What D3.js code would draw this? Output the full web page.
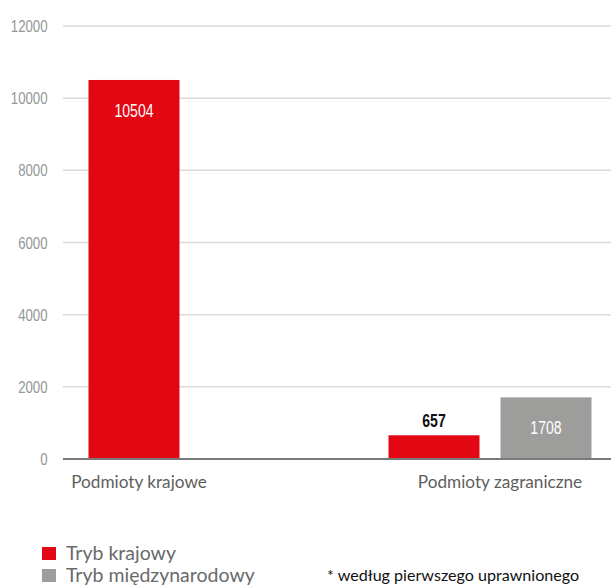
<!DOCTYPE html>
<html><head><meta charset="utf-8">
<script src="https://cdn.jsdelivr.net/npm/d3@7"></script>
<style>body{margin:0;background:#fff}svg{display:block}</style>
</head><body><div id="c"></div>
<script>
const categories = ["Podmioty krajowe", "Podmioty zagraniczne"];
const seriesNames = ["Tryb krajowy", "Tryb międzynarodowy"];
const krajowyValues = [10504, 657];
const miedzynarodowyValues = [null, 1708];
const yTicks = [0, 2000, 4000, 6000, 8000, 10000, 12000];
const footnote = "* według pierwszego uprawnionego";
const colors = ["#e30613", "#9d9d9c"];

const W = 611, H = 587;
const svg = d3.select("#c").append("svg").attr("width", W).attr("height", H);
const y = d3.scaleLinear().domain([0, 12000]).range([459, 26]);
const x0 = d3.scaleBand().domain(categories).range([40, 640]);
const x1 = d3.scaleBand().domain(seriesNames).range([0, x0.bandwidth()]).paddingInner(0.1875).paddingOuter(0.433);
const seriesVals = [krajowyValues, miedzynarodowyValues];
const numFont = "'Liberation Sans', Arial, sans-serif";

// grid
svg.append("g").selectAll("line").data(yTicks.filter(d => d > 0)).join("line")
  .attr("x1", 63).attr("x2", W).attr("y1", d => y(d)).attr("y2", d => y(d))
  .attr("stroke", "#dadada").attr("stroke-width", 1.5);
// tick labels (condensed)
svg.append("g").selectAll("text").data(yTicks).join("text")
  .attr("transform", d => `translate(47.5,${y(d) + 6}) scale(0.8,1)`)
  .attr("text-anchor", "end")
  .attr("font-family", numFont).attr("font-size", 16.5).attr("fill", "#969696").text(d => d);

// bars
const data = [];
categories.forEach((c, i) => seriesNames.forEach((s, j) => {
  const v = seriesVals[j][i];
  if (v != null) data.push({c, s, v, j});
}));
svg.append("g").selectAll("rect").data(data).join("rect")
  .attr("x", d => x0(d.c) + x1(d.s)).attr("width", x1.bandwidth())
  .attr("y", d => y(d.v)).attr("height", d => y(0) - y(d.v))
  .attr("fill", d => colors[d.j]);

// baseline
svg.append("line").attr("x1", 63).attr("x2", W).attr("y1", y(0)).attr("y2", y(0))
  .attr("stroke", "#7a7a7a").attr("stroke-width", 2);

// value labels
const inside = d => (y(0) - y(d.v)) > 40;
svg.append("g").selectAll("text").data(data).join("text")
  .attr("transform", d => {
    const cx = x0(d.c) + x1(d.s) + x1.bandwidth() / 2;
    const by = inside(d) ? y(d.v) + 37 : (d.j === 1 ? y(d.v) + 31 : y(d.v) - 8);
    return `translate(${cx},${by}) scale(0.74,1)`;
  })
  .attr("text-anchor", "middle")
  .attr("font-family", numFont)
  .attr("font-weight", d => inside(d) || d.j === 1 ? "normal" : "bold")
  .attr("font-size", 19)
  .attr("fill", d => (inside(d) || d.j === 1) ? "#fff" : "#111")
  .text(d => d.v);

// category labels
const catOffsets = [x0.bandwidth() / 2 - 51, x0.bandwidth() / 2 + 10];
svg.append("g").selectAll("text").data(categories).join("text")
  .attr("x", (d, i) => x0(d) + catOffsets[i]).attr("y", 488).attr("text-anchor", "middle")
  .attr("font-family", "Lato").attr("font-size", 17.2).attr("fill", "#5e5e5e").text(d => d);

// legend
const lg = svg.append("g");
seriesNames.forEach((s, i) => {
  lg.append("rect").attr("x", 42).attr("y", 547 + i * 22).attr("width", 14).attr("height", 13).attr("fill", colors[i]);
  lg.append("text").attr("x", 66).attr("y", 560 + i * 22).attr("font-family", "Lato").attr("font-size", 19.5)
    .attr("fill", "#6a6a6a").text(s);
});
svg.append("text").attr("x", 327).attr("y", 581).attr("font-family", "Lato").attr("font-size", 16.1)
  .attr("fill", "#111").text(footnote);
</script></body></html>
